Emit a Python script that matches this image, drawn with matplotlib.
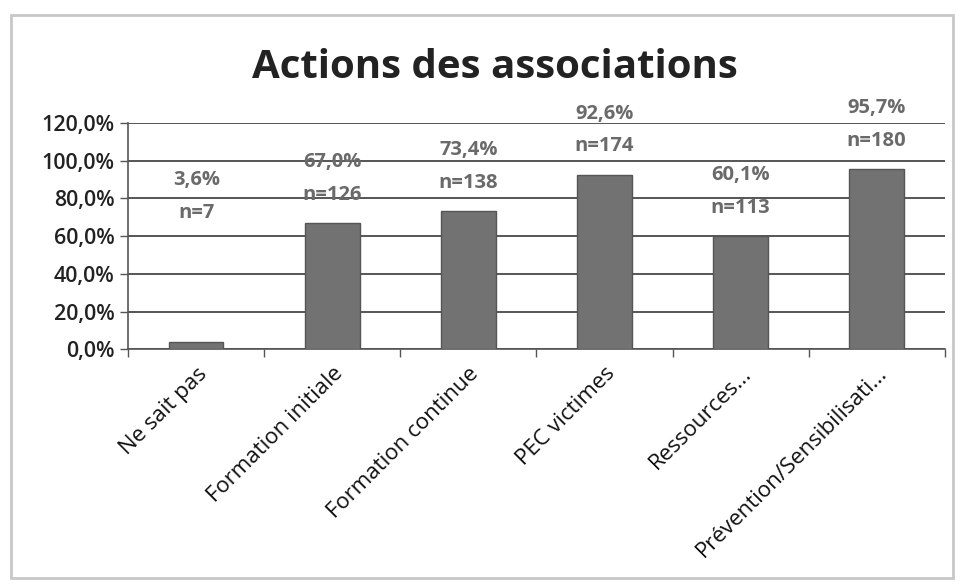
import matplotlib.pyplot as plt
from matplotlib.patches import Rectangle

categories = ['Ne sait pas', 'Formation initiale', 'Formation continue',
              'PEC victimes', 'Ressources...', 'Prévention/Sensibilisati...']
pct = [3.6, 67.0, 73.4, 92.6, 60.1, 95.7]
counts = [7, 126, 138, 174, 113, 180]
yticks = [0, 20, 40, 60, 80, 100, 120]
# label lift above bar top (points); the first one was dragged up in Excel
label_lift = [86, 13, 13, 13, 13, 13]

plt.rcParams['font.family'] = ['Open Sans', 'DejaVu Sans']

fig = plt.figure(figsize=(9.64, 5.85), dpi=100)
fig.patches.append(Rectangle((0.011, 0.012), 0.978, 0.962, transform=fig.transFigure,
                             fill=False, edgecolor='#c8c8c8', linewidth=2))

ax = fig.add_axes([0.133, 0.403, 0.847, 0.387])
x = list(range(len(categories)))
ax.bar(x, pct, width=0.4, color='#727272', edgecolor='#555555', linewidth=1, zorder=3)

for i, v in enumerate(pct):
    txt = f"{v:.1f}".replace('.', ',') + '%\nn=' + str(counts[i])
    ax.annotate(txt, (i, v), xytext=(0, label_lift[i]), textcoords='offset points',
                ha='center', va='bottom', fontsize=14.5, fontweight='bold',
                color='#6a6a6a', linespacing=1.85, zorder=4)

ax.set_xlim(-0.5, len(categories) - 0.5)
ax.set_ylim(0, 120)
ax.set_yticks(yticks)
ax.set_yticklabels([f"{t},0%" for t in yticks], fontsize=15.5, fontweight='semibold',
                   color='#222222')
ax.yaxis.grid(True, color='#555555', linewidth=1.4, zorder=0)

ax.set_xticks([i - 0.5 for i in range(len(categories) + 1)], minor=False)
ax.set_xticklabels([])
ax.set_xticks(x, minor=True)
ax.set_xticklabels(categories, minor=True, rotation=45, ha='right',
                   rotation_mode='anchor', fontsize=16, color='#111111')
ax.tick_params(axis='x', which='minor', length=0, pad=10)
ax.tick_params(axis='x', which='major', length=6, color='#555555', width=1)
ax.tick_params(axis='y', length=6, color='#555555', width=1, pad=4)

for s in ['top', 'right']:
    ax.spines[s].set_visible(False)
ax.spines['left'].set_color('#555555')
ax.spines['bottom'].set_color('#555555')
ax.spines['left'].set_linewidth(1.2)
ax.spines['bottom'].set_linewidth(1.2)

fig.text(0.513, 0.884, 'Actions des associations', ha='center', va='center',
         fontsize=29, fontweight='bold', color='#222222')

fig.savefig('out.png', dpi=100)
